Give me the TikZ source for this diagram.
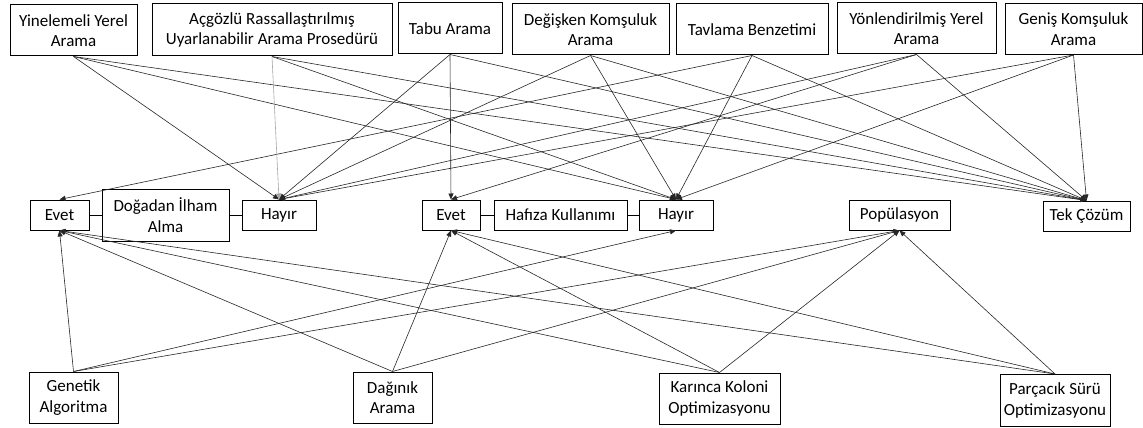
\documentclass[tikz,border=0pt]{standalone}
\usepackage{fontspec}
\setmainfont{Carlito}
\usetikzlibrary{arrows.meta}
\begin{document}
\begin{tikzpicture}[x=1pt,y=-1pt,
  box/.style={draw=black, line width=1pt, fill=white, inner sep=0pt, align=center,
              minimum height=51pt, font=\fontsize{17}{20.5}\selectfont},
  small/.style={box, minimum height=30pt},
  link/.style={draw=black!85, line width=0.6pt, -{Triangle[length=6pt,width=5pt]}},
  faint/.style={draw=black!35},
  tie/.style={draw=black, line width=0.8pt}]
\useasboundingbox (0,0) rectangle (1143,428);

% methods (top row)
\node[box, minimum width=127pt] (yin) at (73.5,30.5) {Yinelemeli Yerel\\Arama};
\node[box, minimum width=240pt, minimum height=52pt] (acg) at (272,30) {Açgözlü Rassallaştırılmış\\Uyarlanabilir Arama Prosedürü};
\node[box, minimum width=104pt] (tabu) at (450,28.5) {Tabu Arama};
\node[box, minimum width=157pt] (deg) at (590.5,29.5) {Değişken Komşuluk\\Arama};
\node[box, minimum width=152pt] (tav) at (752,29.5) {Tavlama Benzetimi};
\node[box, minimum width=159pt] (yon) at (916.5,28.5) {Yönlendirilmiş Yerel\\Arama};
\node[box, minimum width=137pt] (gen) at (1073.5,29) {Geniş Komşuluk\\Arama};

% criteria (middle row)
\node[small, minimum width=59pt] (ev1) at (59.5,215) {Evet};
\node[box, minimum width=127pt, minimum height=52pt] (dog) at (165.5,215) {Doğadan İlham\\Alma};
\node[small, minimum width=74pt] (hay1) at (279,215) {Hayır};
\node[small, minimum width=58pt] (ev2) at (451,215) {Evet};
\node[small, minimum width=133pt] (haf) at (560.5,215) {Hafıza Kullanımı};
\node[small, minimum width=74pt] (hay2) at (676,215) {Hayır};
\node[small, minimum width=101pt] (pop) at (899.5,215) {Popülasyon};
\node[small, minimum width=87pt] (tek) at (1086.5,216) {Tek Çözüm};

\draw[tie] (ev1.east) -- (dog.west);
\draw[tie] (dog.east) -- (hay1.west);
\draw[tie] (ev2.east) -- (haf.west);
\draw[tie] (haf.east) -- (hay2.west);

% methods (bottom row)
\node[box, minimum width=89pt] (ga) at (73.5,397.5) {Genetik\\Algoritma};
\node[box, minimum width=79pt] (da) at (392.5,397.5) {Dağınık\\Arama};
\node[box, minimum width=121pt] (kko) at (719.5,398.5) {Karınca Koloni\\Optimizasyonu};
\node[box, minimum width=110pt, minimum height=52pt] (pso) at (1055,400.5) {Parçacık Sürü\\Optimizasyonu};

% top methods to criteria
\foreach \s/\t in {yin/hay1, yin/hay2, yin/tek,
                   acg/hay2, acg/tek,
                   tabu/ev2, tabu/hay1, tabu/tek,
                   deg/hay1, deg/hay2, deg/tek,
                   tav/ev1, tav/hay2, tav/tek,
                   yon/hay1, yon/ev2, yon/tek,
                   gen/hay1, gen/hay2, gen/tek}
  \draw[link] (\s.south) -- (\t.north);
\draw[link, faint] (acg.south) -- (hay1.north);

% bottom methods to criteria
\foreach \s/\t in {ga/ev1, ga/hay2, ga/pop,
                   da/ev1, da/ev2, da/pop,
                   kko/ev1, kko/ev2, kko/pop,
                   pso/ev1, pso/ev2, pso/pop}
  \draw[link] (\s.north) -- (\t.south);
\end{tikzpicture}
\end{document}
